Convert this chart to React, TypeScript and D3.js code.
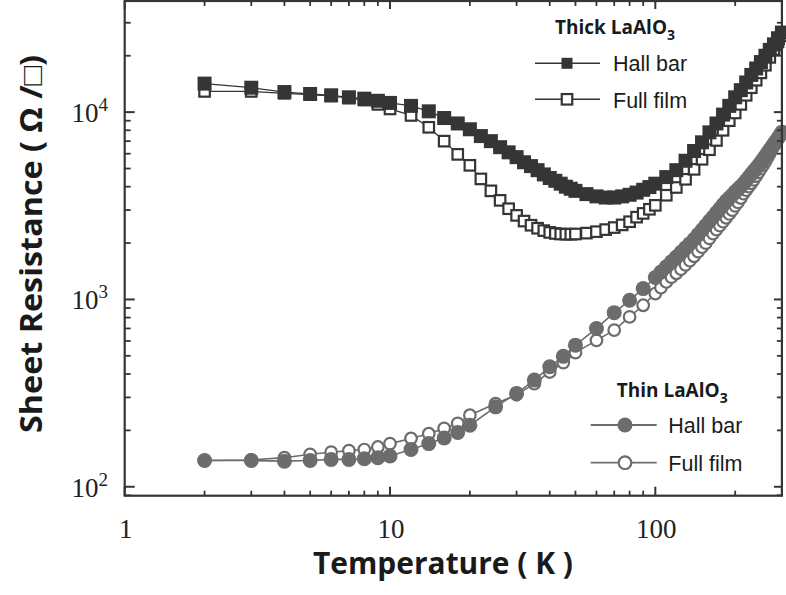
import React from "react";
import * as d3 from "d3";

// ---- data ----
const tempThick = [2, 3, 4, 5, 6, 7, 8, 9, 10,
  12, 14, 16, 18, 20, 22, 24, 26, 28, 30, 32, 34, 36, 38, 40, 42, 44, 46, 48, 50,
  55, 60, 65, 70, 75, 80, 85, 90, 95, 100,
  110, 120, 130, 140, 150, 160, 170, 180, 190, 200, 210, 220, 230, 240, 250, 260, 270, 280, 290, 300];
const thickHallBar = [14200, 13500, 12800, 12500, 12300, 12000, 11800, 11500, 11200,
  10800, 10100, 9300, 8700, 8100, 7450, 7000, 6500, 6100, 5750, 5400, 5150, 4900, 4650, 4450, 4300, 4150, 4000, 3900, 3800,
  3650, 3550, 3500, 3500, 3550, 3620, 3720, 3850, 3980, 4150,
  4500, 4900, 5500, 6200, 6900, 7800, 8700, 9700, 10800, 12000, 13100, 14400, 15800, 17100, 18500, 20000, 21500, 23000, 24800, 26600];
const thickFullFilm = [12900, 12900, 12600, 12400, 12200, 11900, 11600, 11000, 10400,
  9600, 8300, 7000, 5950, 5200, 4400, 3800, 3380, 3050, 2810, 2620, 2490, 2400, 2330, 2280, 2250, 2235, 2230, 2230, 2235,
  2260, 2300, 2360, 2420, 2500, 2600, 2750, 2880, 3030, 3180,
  3600, 3960, 4380, 4950, 5600, 6300, 7060, 8000, 9000, 9900, 11000, 12300, 13500, 14800, 16200, 17800, 19600, 21600, 23700, 25500];

const tempThin = [2, 3, 4, 5, 6, 7, 8, 9, 10,
  12, 14, 16, 18, 20,
  25, 30, 35, 40, 45, 50,
  60, 70, 80, 90, 100,
  105, 110, 115, 120, 125, 130, 135, 140, 145, 150, 155, 160, 165, 170, 175, 180, 185, 190, 195, 200,
  205, 210, 215, 220, 225, 230, 235, 240, 245, 250, 255, 260, 265, 270, 275, 280, 285, 290, 295, 300];
const thinHallBar = [138, 138, 137, 138, 140, 140, 141, 143, 146,
  158, 170, 182, 195, 213,
  267, 315, 371, 437, 497, 570,
  700, 850, 990, 1143, 1310,
  1400, 1495, 1590, 1686, 1785, 1885, 1985, 2095, 2220, 2350, 2480, 2620, 2755, 2900, 3050, 3200, 3350, 3480, 3610, 3750,
  3880, 4010, 4150, 4315, 4490, 4665, 4840, 5010, 5200, 5395, 5610, 5835, 6065, 6295, 6530, 6775, 7015, 7280, 7535, 7820];
const thinFullFilm = [138, 139, 143, 149, 153, 156, 158, 163, 170,
  181, 192, 205, 218, 241,
  278, 310, 355, 410, 460, 520,
  605, 686, 807, 931, 1075,
  1155, 1240, 1315, 1380, 1450, 1530, 1610, 1700, 1800, 1900, 2000, 2120, 2245, 2360, 2480, 2600, 2730, 2860, 3000, 3160,
  3300, 3480, 3670, 3830, 4000, 4170, 4350, 4560, 4770, 4990, 5220, 5450, 5720, 6000, 6300, 6600, 6900, 7200, 7500, 7800];

const xTickValues = [1, 10, 100];
const xTickLabels = ["1", "10", "100"];
const yTickValues = [100, 1000, 10000];
const yTickExponents = ["2", "3", "4"];
const legendThickTitle = "Thick LaAlO";
const legendThinTitle = "Thin LaAlO";
const legendLabels = ["Hall bar", "Full film"];

const W = 786, H = 595;
const L = 124.7, R = 781.9, T = 1, B = 495.7;

const DARK = "#353535";
const GREY = "#6c6c6c";

export default function App() {
  const x = d3.scaleLog().domain([1, 300]).range([L, R]);
  const y = d3.scaleLog().domain([89.6, 39200]).range([B, T]);

  const line = (xs: number[], ys: number[]) =>
    d3.line<number>().x((_, i) => x(xs[i])).y((v) => y(v))(ys) || "";

  const xMinor: number[] = [];
  [1, 10, 100].forEach((d) => {
    for (let k = 2; k <= 9; k++) if (d * k <= 300) xMinor.push(d * k);
  });
  const yMinor: number[] = [];
  [10, 100, 1000, 10000].forEach((d) => {
    for (let k = 2; k <= 9; k++) {
      const v = d * k;
      if (v > 89.6 && v < 39200) yMinor.push(v);
    }
  });

  const sq = 14, osq = 10.5, rc = 7.5, orc = 5.8;

  const serif = "'Liberation Serif','Times New Roman',serif";
  const sans = "'Open Sans','Noto Sans',sans-serif";
  const arial = "'Liberation Sans',Arial,sans-serif";

  return (
    <svg width={W} height={H} style={{ position: "absolute", left: 0, top: 0, background: "#fff" }}>
      <rect x={0} y={0} width={W} height={H} fill="#fff" />

      {/* thin series */}
      <path d={line(tempThin, thinFullFilm)} fill="none" stroke={GREY} strokeWidth={1.6} />
      <path d={line(tempThin, thinHallBar)} fill="none" stroke={GREY} strokeWidth={1.6} />
      {thinFullFilm.map((v, i) => (
        <circle key={"tf" + i} cx={x(tempThin[i])} cy={y(v)} r={orc} fill="#fff" stroke={GREY} strokeWidth={2.2} />
      ))}
      {thinHallBar.map((v, i) => (
        <circle key={"th" + i} cx={x(tempThin[i])} cy={y(v)} r={rc} fill={GREY} />
      ))}

      {/* thick series */}
      <path d={line(tempThick, thickFullFilm)} fill="none" stroke={DARK} strokeWidth={1.3} />
      <path d={line(tempThick, thickHallBar)} fill="none" stroke={DARK} strokeWidth={1.3} />
      {thickFullFilm.map((v, i) => (
        <rect key={"kf" + i} x={x(tempThick[i]) - osq / 2} y={y(v) - osq / 2} width={osq} height={osq}
          fill="#fff" stroke={DARK} strokeWidth={2.2} />
      ))}
      {thickHallBar.map((v, i) => (
        <rect key={"kh" + i} x={x(tempThick[i]) - sq / 2} y={y(v) - sq / 2} width={sq} height={sq} fill={DARK} />
      ))}

      {/* frame */}
      <rect x={L} y={T} width={R - L} height={B - T} fill="none" stroke={DARK} strokeWidth={2.2} />

      {/* x ticks */}
      {xTickValues.map((v) => (
        <g key={"xt" + v}>
          <line x1={x(v)} x2={x(v)} y1={B} y2={B - 9} stroke={DARK} strokeWidth={2} />
          <line x1={x(v)} x2={x(v)} y1={T} y2={T + 8} stroke={DARK} strokeWidth={2} />
        </g>
      ))}
      {xMinor.map((v) => (
        <g key={"xm" + v}>
          <line x1={x(v)} x2={x(v)} y1={B} y2={B - 5} stroke={DARK} strokeWidth={1.8} />
          <line x1={x(v)} x2={x(v)} y1={T} y2={T + 5} stroke={DARK} strokeWidth={1.8} />
        </g>
      ))}
      {/* y ticks */}
      {yTickValues.map((v) => (
        <g key={"yt" + v}>
          <line x1={L} x2={L + 10} y1={y(v)} y2={y(v)} stroke={DARK} strokeWidth={2} />
          <line x1={R} x2={R - 8} y1={y(v)} y2={y(v)} stroke={DARK} strokeWidth={2} />
        </g>
      ))}
      {yMinor.map((v) => (
        <g key={"ym" + v}>
          <line x1={L} x2={L + 6} y1={y(v)} y2={y(v)} stroke={DARK} strokeWidth={1.8} />
          <line x1={R} x2={R - 5} y1={y(v)} y2={y(v)} stroke={DARK} strokeWidth={1.8} />
        </g>
      ))}

      {/* tick labels */}
      {xTickValues.map((v, i) => (
        <text key={"xl" + v} x={x(v) + 1} y={538} textAnchor="middle" fontFamily={serif} fontSize={27} fill="#222">
          {xTickLabels[i]}
        </text>
      ))}
      {yTickValues.map((v, i) => (
        <text key={"yl" + v} x={108} y={y(v) + 10} textAnchor="end" fontFamily={serif} fontSize={27} fill="#222">
          10
          <tspan fontSize={19} dy={-11}>{yTickExponents[i]}</tspan>
        </text>
      ))}

      {/* axis titles */}
      <text x={443} y={574} textAnchor="middle" fontFamily={sans} fontWeight={700} fontSize={30} fill="#1a1a1a"
        textLength={260} lengthAdjust="spacingAndGlyphs">
        Temperature ( K )
      </text>
      <text transform="translate(42,244) rotate(-90)" textAnchor="middle" fontFamily={sans} fontWeight={700}
        fontSize={30} fill="#1a1a1a" textLength={378} lengthAdjust="spacingAndGlyphs">
        Sheet Resistance ( Ω /□)
      </text>

      {/* thick legend */}
      <text x={555} y={34} fontFamily={sans} fontWeight={700} fontSize={19} fill="#1a1a1a">
        {legendThickTitle}
        <tspan fontSize={14} dy={6}>3</tspan>
      </text>
      <line x1={535} x2={600} y1={63.3} y2={63.3} stroke={DARK} strokeWidth={1.6} />
      <rect x={567 - 5.5} y={63.3 - 5.5} width={11} height={11} fill={DARK} />
      <text x={613} y={70.7} fontFamily={arial} fontSize={21.5} fill="#1a1a1a">{legendLabels[0]}</text>
      <line x1={535} x2={600} y1={99.3} y2={99.3} stroke={DARK} strokeWidth={1.6} />
      <rect x={567 - osq / 2} y={99.3 - osq / 2} width={osq} height={osq} fill="#fff" stroke={DARK} strokeWidth={2.2} />
      <text x={613} y={108.3} fontFamily={arial} fontSize={21.5} fill="#1a1a1a">{legendLabels[1]}</text>

      {/* thin legend */}
      <text x={616.7} y={397.3} fontFamily={sans} fontWeight={700} fontSize={19} fill="#1a1a1a">
        {legendThinTitle}
        <tspan fontSize={14} dy={6}>3</tspan>
      </text>
      <line x1={590.7} x2={656.7} y1={425} y2={425} stroke={GREY} strokeWidth={1.8} />
      <circle cx={625} cy={425} r={rc} fill={GREY} />
      <text x={668.3} y={432.7} fontFamily={arial} fontSize={21.5} fill="#1a1a1a">{legendLabels[0]}</text>
      <line x1={590.7} x2={656.7} y1={462.7} y2={462.7} stroke={GREY} strokeWidth={1.8} />
      <circle cx={625} cy={462.7} r={orc + 0.5} fill="#fff" stroke={GREY} strokeWidth={2.2} />
      <text x={668.3} y={470.7} fontFamily={arial} fontSize={21.5} fill="#1a1a1a">{legendLabels[1]}</text>
    </svg>
  );
}
